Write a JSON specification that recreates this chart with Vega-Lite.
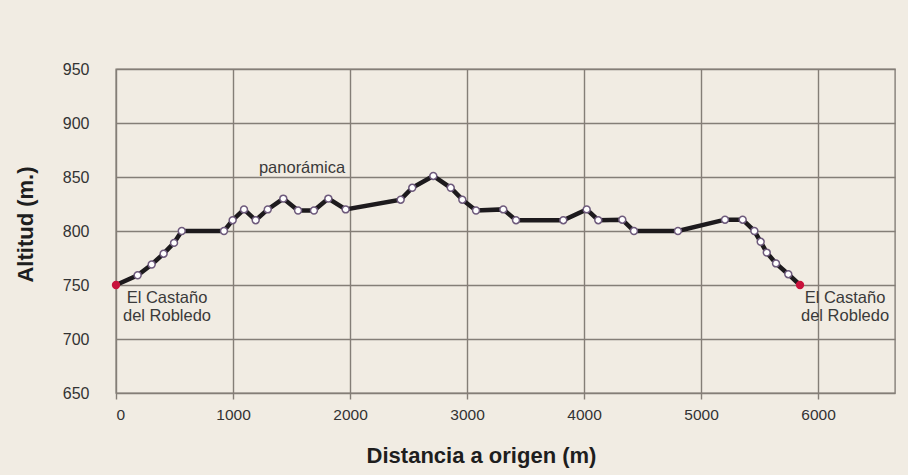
{
  "$schema": "https://vega.github.io/schema/vega-lite/v6.json",
  "width": 779,
  "height": 324,
  "autosize": {"type": "none"},
  "padding": {"left": 116, "top": 69, "right": 13, "bottom": 82},
  "background": "#f1ece3",
  "view": {"stroke": "#847e77", "strokeWidth": 1.4, "fill": "#f1ece3"},
  "config": {
    "font": "Liberation Sans",
    "axis": {
      "gridColor": "#847e77",
      "gridWidth": 1.4,
      "gridOpacity": 1,
      "domain": false,
      "labelFont": "Liberation Sans",
      "labelFontSize": 15.5,
      "labelColor": "#333333",
      "titleFont": "Liberation Sans",
      "titleFontWeight": "bold",
      "titleColor": "#1e1e1e"
    }
  },
  "datasets": {
    "profile": [
      {"d": 0, "alt": 750, "kind": "end"},
      {"d": 185, "alt": 759, "kind": "pt"},
      {"d": 305, "alt": 769, "kind": "pt"},
      {"d": 407, "alt": 779, "kind": "pt"},
      {"d": 496, "alt": 789, "kind": "pt"},
      {"d": 562, "alt": 800, "kind": "pt"},
      {"d": 923, "alt": 800, "kind": "pt"},
      {"d": 997, "alt": 810, "kind": "pt"},
      {"d": 1094, "alt": 820, "kind": "pt"},
      {"d": 1194, "alt": 810, "kind": "pt"},
      {"d": 1297, "alt": 820, "kind": "pt"},
      {"d": 1430, "alt": 830, "kind": "pt"},
      {"d": 1556, "alt": 819, "kind": "pt"},
      {"d": 1692, "alt": 819, "kind": "pt"},
      {"d": 1815, "alt": 830, "kind": "pt"},
      {"d": 1963, "alt": 820, "kind": "pt"},
      {"d": 2433, "alt": 829, "kind": "pt"},
      {"d": 2532, "alt": 840, "kind": "pt"},
      {"d": 2712, "alt": 851, "kind": "pt"},
      {"d": 2861, "alt": 840, "kind": "pt"},
      {"d": 2960, "alt": 829, "kind": "pt"},
      {"d": 3077, "alt": 819, "kind": "pt"},
      {"d": 3310, "alt": 820, "kind": "pt"},
      {"d": 3419, "alt": 810, "kind": "pt"},
      {"d": 3823, "alt": 810, "kind": "pt"},
      {"d": 4023, "alt": 820, "kind": "pt"},
      {"d": 4122, "alt": 810, "kind": "pt"},
      {"d": 4327, "alt": 810.5, "kind": "pt"},
      {"d": 4427, "alt": 800, "kind": "pt"},
      {"d": 4803, "alt": 800, "kind": "pt"},
      {"d": 5205, "alt": 810.5, "kind": "pt"},
      {"d": 5356, "alt": 810.5, "kind": "pt"},
      {"d": 5456, "alt": 800, "kind": "pt"},
      {"d": 5510, "alt": 790, "kind": "pt"},
      {"d": 5562, "alt": 780, "kind": "pt"},
      {"d": 5641, "alt": 770, "kind": "pt"},
      {"d": 5746, "alt": 760, "kind": "pt"},
      {"d": 5846, "alt": 750, "kind": "end"}
    ],
    "labels": [
      {"d": 1590, "alt": 854, "text": ["panorámica"]},
      {"d": 436, "alt": 733.5, "text": ["El Castaño", "del Robledo"]},
      {"d": 6231, "alt": 733.5, "text": ["El Castaño", "del Robledo"]}
    ]
  },
  "layer": [
    {
      "data": {"name": "profile"},
      "mark": {"type": "line", "color": "#1d1a1d", "strokeWidth": 4.5, "clip": false},
      "encoding": {
        "x": {
          "field": "d", "type": "quantitative",
          "scale": {"domain": [0, 6658], "nice": false},
          "axis": {
            "values": [0, 1000, 2000, 3000, 4000, 5000, 6000],
            "title": "Distancia a origen (m)",
            "titleFontSize": 22,
            "titleX": 365,
            "titleY": 69,
            "titleBaseline": "alphabetic",
            "ticks": true,
            "tickSize": 6,
            "tickColor": "#847e77",
            "tickWidth": 1.4,
            "labelPadding": 8,
            "labelBaseline": "top",
            "format": "d"
          }
        },
        "y": {
          "field": "alt", "type": "quantitative",
          "scale": {"domain": [650, 950], "nice": false, "zero": false},
          "axis": {
            "values": [650, 700, 750, 800, 850, 900, 950],
            "title": "Altitud (m.)",
            "titleFontSize": 22,
            "titleX": -84,
            "titleY": 155,
            "titleBaseline": "alphabetic",
            "ticks": false,
            "labelPadding": 27,
            "labelFontSize": 16,
            "format": "d"
          }
        }
      }
    },
    {
      "data": {"name": "profile"},
      "transform": [{"filter": "datum.kind === 'pt'"}],
      "mark": {"type": "circle", "fill": "#ffffff", "stroke": "#6e5a7c", "strokeWidth": 1.5, "size": 48, "opacity": 1},
      "encoding": {
        "x": {"field": "d", "type": "quantitative"},
        "y": {"field": "alt", "type": "quantitative"}
      }
    },
    {
      "data": {"name": "profile"},
      "transform": [{"filter": "datum.kind === 'end'"}],
      "mark": {"type": "circle", "color": "#c8123c", "size": 70, "opacity": 1, "clip": false},
      "encoding": {
        "x": {"field": "d", "type": "quantitative"},
        "y": {"field": "alt", "type": "quantitative"}
      }
    },
    {
      "data": {"name": "labels"},
      "mark": {"type": "text", "font": "Liberation Sans", "fontSize": 16.5, "color": "#3a3a3a", "align": "center", "baseline": "alphabetic", "lineHeight": 18, "clip": false},
      "encoding": {
        "x": {"field": "d", "type": "quantitative"},
        "y": {"field": "alt", "type": "quantitative"},
        "text": {"field": "text"}
      }
    }
  ]
}
